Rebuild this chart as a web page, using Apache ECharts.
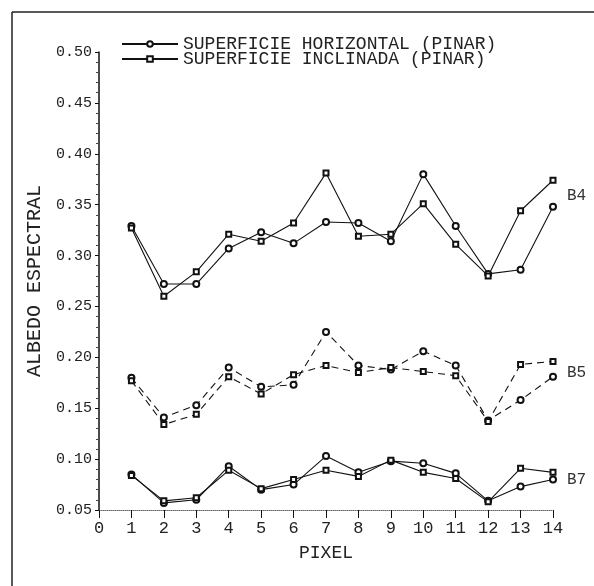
<!DOCTYPE html>
<html>
<head>
<meta charset="utf-8">
<script src="https://cdn.jsdelivr.net/npm/echarts@6/dist/echarts.min.js"></script>
<style>
  html, body { margin: 0; padding: 0; background: #fff; }
  #chart { width: 594px; height: 586px; }
</style>
</head>
<body>
<div id="chart"></div>
<script>
// pixel numbers on the x axis
const pixels = [1, 2, 3, 4, 5, 6, 7, 8, 9, 10, 11, 12, 13, 14];
const yTicks = [0.05, 0.10, 0.15, 0.20, 0.25, 0.30, 0.35, 0.40, 0.45, 0.50];

const nameHoriz = "SUPERFICIE HORIZONTAL (PINAR)";
const nameIncl = "SUPERFICIE INCLINADA (PINAR)";

// banda 4
const b4Horiz = [0.329, 0.272, 0.272, 0.307, 0.323, 0.312, 0.333, 0.332, 0.314, 0.380, 0.329, 0.282, 0.286, 0.348];
const b4Incl = [0.327, 0.260, 0.284, 0.321, 0.314, 0.332, 0.381, 0.319, 0.321, 0.351, 0.311, 0.280, 0.344, 0.374];
// banda 5
const b5Horiz = [0.180, 0.141, 0.153, 0.190, 0.171, 0.173, 0.225, 0.192, 0.188, 0.206, 0.192, 0.138, 0.158, 0.181];
const b5Incl = [0.177, 0.134, 0.144, 0.181, 0.164, 0.183, 0.192, 0.185, 0.190, 0.186, 0.182, 0.137, 0.193, 0.196];
// banda 7
const b7Horiz = [0.085, 0.057, 0.060, 0.093, 0.070, 0.075, 0.103, 0.087, 0.098, 0.096, 0.086, 0.059, 0.073, 0.080];
const b7Incl = [0.084, 0.059, 0.062, 0.089, 0.071, 0.080, 0.089, 0.083, 0.099, 0.087, 0.081, 0.058, 0.091, 0.087];

const bandLabels = ["B4", "B5", "B7"];

const font = "Liberation Mono";

function pairs(values) {
  return values.map((v, i) => [pixels[i], v]);
}

function makeSeries(name, values, isHoriz, lineType, label, labelOffset) {
  const s = {
    name: name,
    type: "line",
    data: pairs(values),
    symbol: isHoriz ? "emptyCircle" : "emptyRect",
    symbolSize: isHoriz ? 6 : 5,
    showSymbol: true,
    showAllSymbol: true,
    color: "#111",
    itemStyle: { borderWidth: 1 },
    lineStyle: { color: "#111", width: 1.1, type: lineType },
    animation: false,
  };
  if (label) {
    s.endLabel = {
      show: true,
      formatter: label,
      distance: 14,
      offset: labelOffset,
      fontFamily: font,
      fontSize: 16,
      color: "#333",
    };
  }
  return s;
}

function makeLegend(name, top) {
  return {
    data: [name],
    left: 116,
    top: top,
    itemGap: 0,
    itemWidth: 56,
    itemHeight: 7,
    textStyle: { fontFamily: font, fontSize: 18, color: "#222" },
  };
}

const myChart = echarts.init(document.querySelector("#chart"));
const option = {
  backgroundColor: "#fff",
  animation: false,
  grid: { left: 99, right: 41, top: 52, bottom: 76 },
  legend: [makeLegend(nameHoriz, 30), makeLegend(nameIncl, 45)],
  xAxis: {
    type: "value",
    min: 0,
    max: 14,
    interval: 1,
    name: "PIXEL",
    nameLocation: "middle",
    nameGap: 34,
    nameTextStyle: { fontFamily: font, fontSize: 18, color: "#222" },
    axisLine: { lineStyle: { color: "#666", type: "dotted", width: 1 } },
    axisTick: { length: 8, lineStyle: { color: "#111" } },
    axisLabel: { fontFamily: font, fontSize: 17, color: "#222", margin: 10 },
    splitLine: { show: false },
  },
  yAxis: {
    type: "value",
    min: yTicks[0],
    max: yTicks[yTicks.length - 1],
    interval: 0.05,
    name: "ALBEDO ESPECTRAL",
    nameLocation: "middle",
    nameGap: 47,
    nameTextStyle: { fontFamily: font, fontSize: 20, color: "#222" },
    axisLine: { show: true, lineStyle: { color: "#111", width: 1.5 } },
    axisTick: { length: 4, lineStyle: { color: "#111" } },
    minorTick: { show: true, splitNumber: 5, length: 3, lineStyle: { color: "#444" } },
    axisLabel: {
      fontFamily: font,
      fontSize: 15,
      color: "#222",
      margin: 7,
      formatter: (v) => v.toFixed(2),
    },
    splitLine: { show: false },
  },
  graphic: [
    { type: "line", shape: { x1: 12, y1: 12, x2: 594, y2: 12 }, style: { stroke: "#222", lineWidth: 1.5 } },
    { type: "line", shape: { x1: 12, y1: 12, x2: 12, y2: 586 }, style: { stroke: "#222", lineWidth: 1.5 } },
  ],
  series: [
    makeSeries(nameHoriz, b4Horiz, true, "solid", bandLabels[0], [0, -11]),
    makeSeries(nameIncl, b4Incl, false, "solid"),
    makeSeries(nameHoriz, b5Horiz, true, [7, 5], bandLabels[1], [0, -4]),
    makeSeries(nameIncl, b5Incl, false, [7, 5]),
    makeSeries(nameHoriz, b7Horiz, true, "solid", bandLabels[2], [0, 0]),
    makeSeries(nameIncl, b7Incl, false, "solid"),
  ],
};
myChart.setOption(option);
</script>
</body>
</html>
